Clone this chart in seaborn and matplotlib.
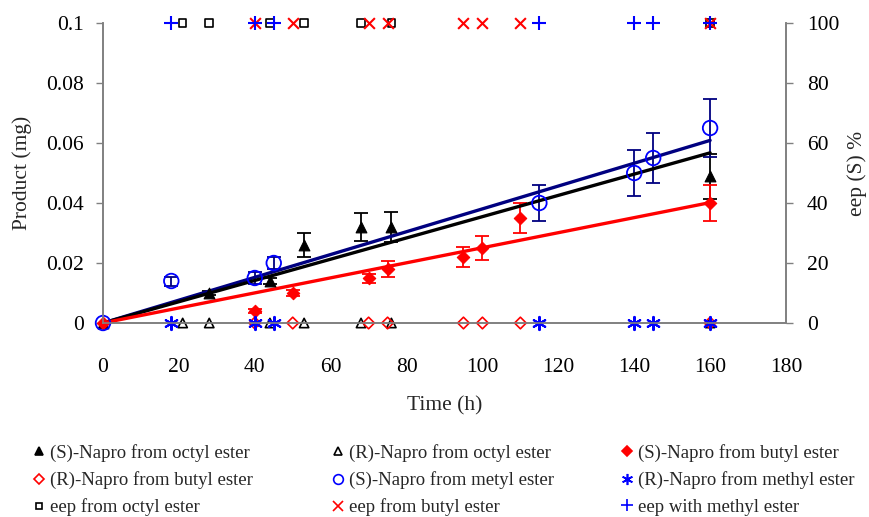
import numpy as np
import pandas as pd
import matplotlib
matplotlib.use("Agg")
import matplotlib.pyplot as plt
import seaborn as sns
from matplotlib.lines import Line2D

# ---------------- data ----------------
# octyl ester
t_octyl = [0, 28, 44, 53, 68, 76, 160]
s_octyl = [0, 0.010, 0.014, 0.026, 0.032, 0.032, 0.049]
s_octyl_err = [0, 0.0008, 0.001, 0.004, 0.0047, 0.005, 0.0075]
t_octyl_r = [21, 28, 44, 53, 68, 76, 160]
r_octyl = [0, 0, 0, 0, 0, 0, 0]
eep_octyl = [100, 100, 100, 100, 100, 100, 100]

# butyl ester
t_butyl = [0, 40, 50, 70, 75, 95, 100, 110, 160]
s_butyl = [0, 0.004, 0.010, 0.015, 0.018, 0.022, 0.025, 0.035, 0.040]
s_butyl_err = [0, 0.0006, 0.001, 0.0015, 0.0028, 0.0033, 0.0039, 0.005, 0.006]
t_butyl_r = [40, 50, 70, 75, 95, 100, 110, 160]
r_butyl = [0, 0, 0, 0, 0, 0, 0, 0]
eep_butyl = [100, 100, 100, 100, 100, 100, 100, 100]

# methyl ester
t_methyl = [0, 18, 40, 45, 115, 140, 145, 160]
s_methyl = [0, 0.014, 0.015, 0.020, 0.040, 0.050, 0.055, 0.065]
s_methyl_err = [0, 0.0015, 0.002, 0.002, 0.006, 0.0077, 0.0084, 0.0097]
t_methyl_r = [18, 40, 45, 115, 140, 145, 160]
r_methyl = [0, 0, 0, 0, 0, 0, 0]
eep_methyl = [100, 100, 100, 100, 100, 100, 100]

x_ticks = [0, 20, 40, 60, 80, 100, 120, 140, 160, 180]
y_ticks = [0, 0.02, 0.04, 0.06, 0.08, 0.1]
y_tick_labels = ["0", "0.02", "0.04", "0.06", "0.08", "0.1"]
y2_ticks = [0, 20, 40, 60, 80, 100]

labels = {
    "s_oct": "(S)-Napro from octyl ester",
    "r_oct": "(R)-Napro from octyl ester",
    "s_but": "(S)-Napro from butyl ester",
    "r_but": "(R)-Napro from butyl ester",
    "s_met": "(S)-Napro from metyl ester",
    "r_met": "(R)-Napro from methyl ester",
    "e_oct": "eep from octyl ester",
    "e_but": "eep from butyl ester",
    "e_met": "eep with methyl ester",
}

# ---------------- style ----------------
sns.set_theme(style="white")
plt.rcParams['font.family'] = ['Liberation Serif', 'DejaVu Serif']
plt.rcParams['mathtext.fontset'] = 'stix'

W, H = 869, 517
fig = plt.figure(figsize=(W / 100, H / 100), dpi=100)
L, R, T, B = 103, 786, 23, 323
ax = fig.add_axes([L / W, 1 - B / H, (R - L) / W, (B - T) / H])
ax2 = ax.twinx()

BLACK = "#000000"
RED = "#ff0000"
BLUE = "#0000ff"
NAVY = "#000080"
GRAY = "#808080"


def fit_line(t, v):
    t = np.asarray(t, float)
    v = np.asarray(v, float)
    slope = np.sum(t * v) / np.sum(t * t)
    xs = np.array([0.0, t.max()])
    return xs, slope * xs


# error bars
ax.errorbar(t_octyl, s_octyl, yerr=s_octyl_err, fmt='none', ecolor=BLACK,
            elinewidth=1.3, capsize=5, capthick=1.3, zorder=2)
ax.errorbar(t_butyl, s_butyl, yerr=s_butyl_err, fmt='none', ecolor=RED,
            elinewidth=1.3, capsize=5, capthick=1.3, zorder=2)
ax.errorbar(t_methyl, s_methyl, yerr=s_methyl_err, fmt='none', ecolor=NAVY,
            elinewidth=1.3, capsize=5, capthick=1.3, zorder=2)

# S markers
sns.scatterplot(x=t_octyl, y=s_octyl, marker='^', s=60, color=BLACK,
                edgecolor=BLACK, linewidth=0.8, ax=ax, zorder=4, clip_on=False)
sns.scatterplot(x=t_butyl, y=s_butyl, marker='D', s=40, color=RED,
                edgecolor=RED, linewidth=0.8, ax=ax, zorder=4, clip_on=False)
sns.scatterplot(x=t_methyl, y=s_methyl, marker='o', s=110, color=BLUE,
                facecolor='none', edgecolor=BLUE, linewidth=1.3, ax=ax,
                zorder=4, clip_on=False)

# trend lines
for t, v, c in [(t_methyl, s_methyl, NAVY), (t_octyl, s_octyl, BLACK),
                (t_butyl, s_butyl, RED)]:
    xs, ys = fit_line(t, v)
    sns.lineplot(x=xs, y=ys, color=c, linewidth=2.4, ax=ax, zorder=3)

# R markers (at 0)
sns.scatterplot(x=t_octyl_r, y=r_octyl, marker='^', s=45, color=BLACK,
                facecolor='none', edgecolor=BLACK, linewidth=1.2, ax=ax,
                zorder=5, clip_on=False)
sns.scatterplot(x=t_butyl_r, y=r_butyl, marker='D', s=35, color=RED,
                facecolor='none', edgecolor=RED, linewidth=1.2, ax=ax,
                zorder=5, clip_on=False)
sns.scatterplot(x=t_methyl_r, y=r_methyl, marker=(6, 2, 0), s=90, color=BLUE,
                linewidth=1.5, ax=ax, zorder=5, clip_on=False)

# eep markers on secondary axis
sns.scatterplot(x=t_octyl_r, y=eep_octyl, marker='s', s=30, color=BLACK,
                facecolor='none', edgecolor=BLACK, linewidth=1.2, ax=ax2,
                zorder=5, clip_on=False)
sns.scatterplot(x=t_butyl_r, y=eep_butyl, marker='x', s=60, color=RED,
                linewidth=1.5, ax=ax2, zorder=5, clip_on=False)
sns.scatterplot(x=t_methyl_r, y=eep_methyl, marker='+', s=90, color=BLUE,
                linewidth=1.5, ax=ax2, zorder=5, clip_on=False)

# ---------------- axes ----------------
ax.set_xlim(0, 180)
ax.set_ylim(0, 0.1)
ax2.set_ylim(0, 100)
ax.set_xticks(x_ticks)
ax.set_xticklabels([str(v) for v in x_ticks])
ax.set_yticks(y_ticks)
ax.set_yticklabels(y_tick_labels)
ax2.set_yticks(y2_ticks)
ax2.set_yticklabels([str(v) for v in y2_ticks])

FS = 15.5
ax.tick_params(axis='x', length=0, pad=25, labelsize=FS, colors=BLACK)
ax.tick_params(axis='y', left=True, length=5, width=1, color=GRAY,
               pad=9, labelsize=FS, labelcolor=BLACK)
ax2.tick_params(axis='y', right=True, length=5, width=1, color=GRAY,
                pad=10, labelsize=FS, labelcolor=BLACK)

for a in (ax, ax2):
    for s in ['top']:
        a.spines[s].set_visible(False)
    for s in ['left', 'right', 'bottom']:
        a.spines[s].set_color(GRAY)
        a.spines[s].set_linewidth(1.2)
ax.grid(False)
ax2.grid(False)

ax.set_xlabel("Time (h)", fontsize=FS, labelpad=14)
ax.set_ylabel("Product (mg)", fontsize=FS, labelpad=10)
ax2.set_ylabel("eep (S) %", fontsize=FS, labelpad=6)

# ---------------- legend ----------------
def h(marker, color, filled=True, ms=6, mew=1.2):
    return Line2D([], [], linestyle='None', marker=marker, color=color,
                  markerfacecolor=color if filled else 'none',
                  markeredgecolor=color, markersize=ms, markeredgewidth=mew)

handles = {
    "s_oct": h('^', BLACK, True, 6),
    "r_oct": h('^', BLACK, False, 6),
    "s_but": h('D', RED, True, 5),
    "r_but": h('D', RED, False, 5),
    "s_met": h('o', BLUE, False, 7),
    "r_met": h((6, 2, 0), BLUE, True, 8),
    "e_oct": h('s', BLACK, False, 5),
    "e_but": h('x', RED, True, 7),
    "e_met": h('+', BLUE, True, 8),
}
columns = [["s_oct", "r_but", "e_oct"],
           ["r_oct", "s_met", "e_but"],
           ["s_but", "r_met", "e_met"]]
col_x = [31, 330, 619]
for cx, keys in zip(col_x, columns):
    fig.legend([handles[k] for k in keys], [labels[k] for k in keys],
               loc='upper left', bbox_to_anchor=(cx / W, 1 - 444 / H),
               frameon=False, fontsize=13.5, handlelength=0.8,
               handletextpad=0.2, labelspacing=0.5, borderpad=0,
               borderaxespad=0)

fig.savefig("out.png", dpi=100)
